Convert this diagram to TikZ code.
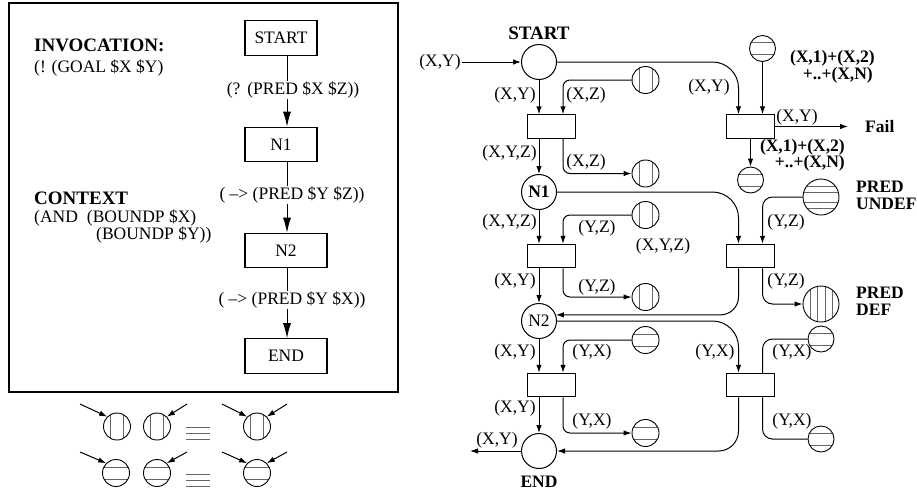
\documentclass[tikz,border=0pt]{standalone}
\usepackage{fontspec}
\setmainfont{Liberation Serif}
\usetikzlibrary{arrows.meta}
\begin{document}
\begin{tikzpicture}[x=1pt,y=-1pt,
  every node/.style={font=\fontsize{17.5}{20}\selectfont},
  lbl/.style={inner sep=1pt},
  blbl/.style={inner sep=1pt,font=\fontsize{17.5}{20}\selectfont\bfseries},
  hbl/.style={inner sep=1pt,font=\fontsize{19}{22}\selectfont\bfseries},
  big/.style={circle,draw,line width=1pt,minimum size=35pt,inner sep=0pt},
  rbox/.style={draw,line width=1pt,minimum width=48pt,minimum height=23.5pt,inner sep=0pt},
  lbox/.style={draw,line width=1.1pt,minimum width=72pt,minimum height=34.5pt,inner sep=0pt},
  wbox/.style={lbox,minimum width=82pt},
  icon/.style={circle,draw,line width=0.9pt,minimum size=27pt,inner sep=0pt},
  chord/.style={line width=1pt,black!60},
  vicon/.style={icon,path picture={
     \draw[chord] ([xshift=-6.5pt]path picture bounding box.north) -- ([xshift=-6.5pt]path picture bounding box.south)
        ([xshift=6.5pt]path picture bounding box.north) -- ([xshift=6.5pt]path picture bounding box.south);}},
  hicon/.style={icon,path picture={
     \draw[chord] ([yshift=6pt]path picture bounding box.west) -- ([yshift=6pt]path picture bounding box.east)
        ([yshift=-6pt]path picture bounding box.west) -- ([yshift=-6pt]path picture bounding box.east);}},
  undef/.style={icon,minimum size=36pt,path picture={
     \foreach \d in {11,5,-5,-11}{\draw[chord] ([yshift=\d pt]path picture bounding box.west) -- ([yshift=\d pt]path picture bounding box.east);}}},
  defic/.style={icon,minimum size=36pt,path picture={
     \foreach \d in {-11,-4,4,11}{\draw[chord] ([xshift=\d pt]path picture bounding box.north) -- ([xshift=\d pt]path picture bounding box.south);}}},
  ln/.style={line width=1pt},
  arr/.style={line width=1pt,-{Latex[length=8pt,width=5.5pt]}},
  bigarr/.style={line width=1pt,-{Latex[length=15pt,width=8pt]}},
]
\useasboundingbox (0,0) rectangle (917,491);

% ================= left panel =================
\draw[line width=1.3pt] (9,3) rectangle (398,392);
\node[hbl,anchor=west] (inv) at (33,45) {INVOCATION:};
\node[lbl,anchor=west] (goal) at (33,68) {(! (GOAL \$X \$Y)};
\node[hbl,anchor=west] (ctx) at (33,198) {CONTEXT};
\node[lbl,anchor=west] (andn) at (33,218) {(AND\hspace{9pt}(BOUNDP \$X)};
\node[lbl,anchor=west] (bnd) at (95,235) {(BOUNDP \$Y))};

\node[lbox] (sb) at (281,38) {START};
\node[lbox] (n1b) at (281,144.5) {N1};
\node[wbox] (n2b) at (286,250.5) {N2};
\node[wbox] (eb) at (286,356) {END};
\coordinate (ax) at (287,0);

\node[lbl] (la) at (293,90) {(?\hspace{7pt}(PRED \$X \$Z))};
\node[lbl] (lb) at (292,195) {( \textendash> (PRED \$Y \$Z))};
\node[lbl] (lc) at (292,300) {( \textendash> (PRED \$Y \$X))};

\draw[ln] (sb.south -| ax) -- (la.north -| ax);
\draw[bigarr] (la.south -| ax) -- (n1b.north -| ax);
\draw[ln] (n1b.south -| ax) -- (lb.north -| ax);
\draw[bigarr] (lb.south -| ax) -- (n2b.north -| ax);
\draw[ln] (n2b.south -| ax) -- (lc.north -| ax);
\draw[bigarr] (lc.south -| ax) -- (eb.north -| ax);

% ================= legend =================
\node[vicon] (g1) at (117,426.5) {};
\node[vicon] (g2) at (157,426.5) {};
\node[vicon] (g3) at (257,426.5) {};
\node[hicon] (h1) at (116,473) {};
\node[hicon] (h2) at (157,473) {};
\node[hicon] (h3) at (257,473) {};
\coordinate (g1s) at (80,404);
\coordinate (g2s) at (187,404);
\coordinate (g3s) at (222,404);
\coordinate (g3t) at (287,404);
\coordinate (h1s) at (80,452);
\coordinate (h2s) at (187,452);
\coordinate (h3s) at (222,452);
\coordinate (h3t) at (287,452);
\draw[arr] (g1s) -- (g1.north west);
\draw[arr] (g2s) -- (g2.north east);
\draw[arr] (g3s) -- (g3.north west);
\draw[arr] (g3t) -- (g3.north east);
\draw[arr] (h1s) -- (h1.north west);
\draw[arr] (h2s) -- (h2.north east);
\draw[arr] (h3s) -- (h3.north west);
\draw[arr] (h3t) -- (h3.north east);
\draw[chord] (186,427) -- (210,427) (186,433) -- (210,433) (186,439) -- (210,439);
\draw[chord] (186,474) -- (210,474) (186,480) -- (210,480) (186,486) -- (210,486);

% ================= right diagram =================
\node[big] (start) at (539,62) {};
\node[big] (n1) at (539,192) {\bfseries N1};
\node[big] (n2) at (539,321) {N2};
\node[big] (end) at (539,451) {};
\node[hbl] (lstart) at (539,33) {START};
\node[blbl] (lend) at (539,482) {END};

\node[rbox] (b1) at (551,126.5) {};
\node[rbox] (b2) at (551,256) {};
\node[rbox] (b3) at (551,385) {};
\node[rbox] (r1) at (750.5,126.5) {};
\node[rbox] (r2) at (750.5,256) {};
\node[rbox] (r3) at (750.5,385) {};

\node[vicon] (m1) at (645.5,80) {};
\node[vicon] (m2) at (645.5,173.5) {};
\node[vicon] (m3) at (645.5,215) {};
\node[vicon] (m4) at (645.5,297) {};
\node[hicon] (m5) at (645.5,340) {};
\node[hicon] (m6) at (645.5,433) {};

\node[hicon,minimum size=26pt] (t1) at (762.5,48.5) {};
\node[hicon,minimum size=26pt] (t2) at (750.5,180) {};
\node[undef] (pu) at (821,197) {};
\node[defic] (pd) at (821,304) {};
\node[hicon,minimum size=26pt] (y1) at (821,339) {};
\node[hicon,minimum size=26pt] (y2) at (821,439) {};

% labels
\node[lbl] (lin) at (440,62) {(X,Y)};
\node[lbl] (l1) at (515,95) {(X,Y)};
\node[lbl] (l2) at (586,95) {(X,Z)};
\node[lbl] (l3) at (709,87) {(X,Y)};
\node[lbl] (l4) at (509.5,153) {(X,Y,Z)};
\node[lbl] (l5) at (586,162) {(X,Z)};
\node[blbl,anchor=east] (ltop1) at (876,58) {(X,1)+(X,2)};
\node[blbl,anchor=east] (ltop2) at (874,75) {+..+(X,N)};
\node[lbl] (lfxy) at (797,117) {(X,Y)};
\node[blbl,anchor=west] (fail) at (864,127) {Fail};
\node[blbl,anchor=east] (lb1) at (846,147) {(X,1)+(X,2)};
\node[blbl,anchor=east] (lb2) at (846,163) {+..+(X,N)};
\node[lbl] (l6) at (509.5,222) {(X,Y,Z)};
\node[lbl] (l7) at (597,228) {(Y,Z)};
\node[lbl] (l8) at (663,246) {(X,Y,Z)};
\node[lbl] (l9) at (786,222) {(Y,Z)};
\node[blbl,anchor=west] (pu1) at (855,187) {PRED};
\node[blbl,anchor=west] (pu2) at (855,204) {UNDEF};
\node[lbl] (l10) at (515,281) {(X,Y)};
\node[lbl] (l11) at (597,287) {(Y,Z)};
\node[lbl] (l12) at (786,281) {(Y,Z)};
\node[blbl,anchor=west] (pd1) at (855,293) {PRED};
\node[blbl,anchor=west] (pd2) at (855,310) {DEF};
\node[lbl] (l13) at (515,352) {(X,Y)};
\node[lbl] (l14) at (592,352) {(Y,X)};
\node[lbl] (l15) at (715,352) {(Y,X)};
\node[lbl] (l16) at (792,352) {(Y,X)};
\node[lbl] (l17) at (515,408) {(X,Y)};
\node[lbl] (l18) at (592,421) {(Y,X)};
\node[lbl] (l19) at (792,421) {(Y,X)};
\node[lbl] (l20) at (497,440) {(X,Y)};

\coordinate (failend) at (848,126.5);
\coordinate (outxy) at (470,451);

% connectors
\draw[arr] (lin) -- (start);
\draw[arr,rounded corners=26pt] (start.east) -| ([xshift=-12pt]r1.north);
\draw[arr] (start) -- (start |- b1.north);
\draw[arr,rounded corners=7pt] (m1.west) -| ([xshift=12pt]b1.north);
\draw[arr] (n1 |- b1.south) -- (n1);
\draw[arr,rounded corners=7pt] ([xshift=12pt]b1.south) |- (m2.west);
\draw[arr] (t1) -- (t1 |- r1.north);
\draw[arr] (r1.east) -- (failend);
\draw[arr] (t2 |- r1.south) -- (t2);

\draw[arr,rounded corners=26pt] (n1.east) -| ([xshift=-12pt]r2.north);
\draw[arr] (n1) -- (n1 |- b2.north);
\draw[arr,rounded corners=7pt] (m3.west) -| ([xshift=12pt]b2.north);
\draw[arr] (n2 |- b2.south) -- (n2);
\draw[arr,rounded corners=7pt] ([xshift=12pt]b2.south) |- (m4.west);
\draw[arr,rounded corners=10pt] (pu.west) -| ([xshift=12pt]r2.north);
\draw[arr,rounded corners=18pt] ([xshift=-12pt]r2.south) |- (n2.20);
\draw[arr,rounded corners=10pt] ([xshift=12pt]r2.south) |- (pd.west);

\draw[arr,rounded corners=26pt] (n2.east) -| ([xshift=-12pt]r3.north);
\draw[arr] (n2) -- (n2 |- b3.north);
\draw[arr,rounded corners=7pt] (m5.west) -| ([xshift=12pt]b3.north);
\draw[arr] (end |- b3.south) -- (end);
\draw[arr,rounded corners=7pt] ([xshift=12pt]b3.south) |- (m6.west);
\draw[arr] (end.west) -- (outxy);
\draw[arr,rounded corners=20pt] ([xshift=-12pt]r3.south) |- (end.east);
\draw[ln,rounded corners=10pt] ([xshift=12pt]r3.north) |- (y1.west);
\draw[ln,rounded corners=10pt] ([xshift=12pt]r3.south) |- (y2.west);
\end{tikzpicture}
\end{document}
